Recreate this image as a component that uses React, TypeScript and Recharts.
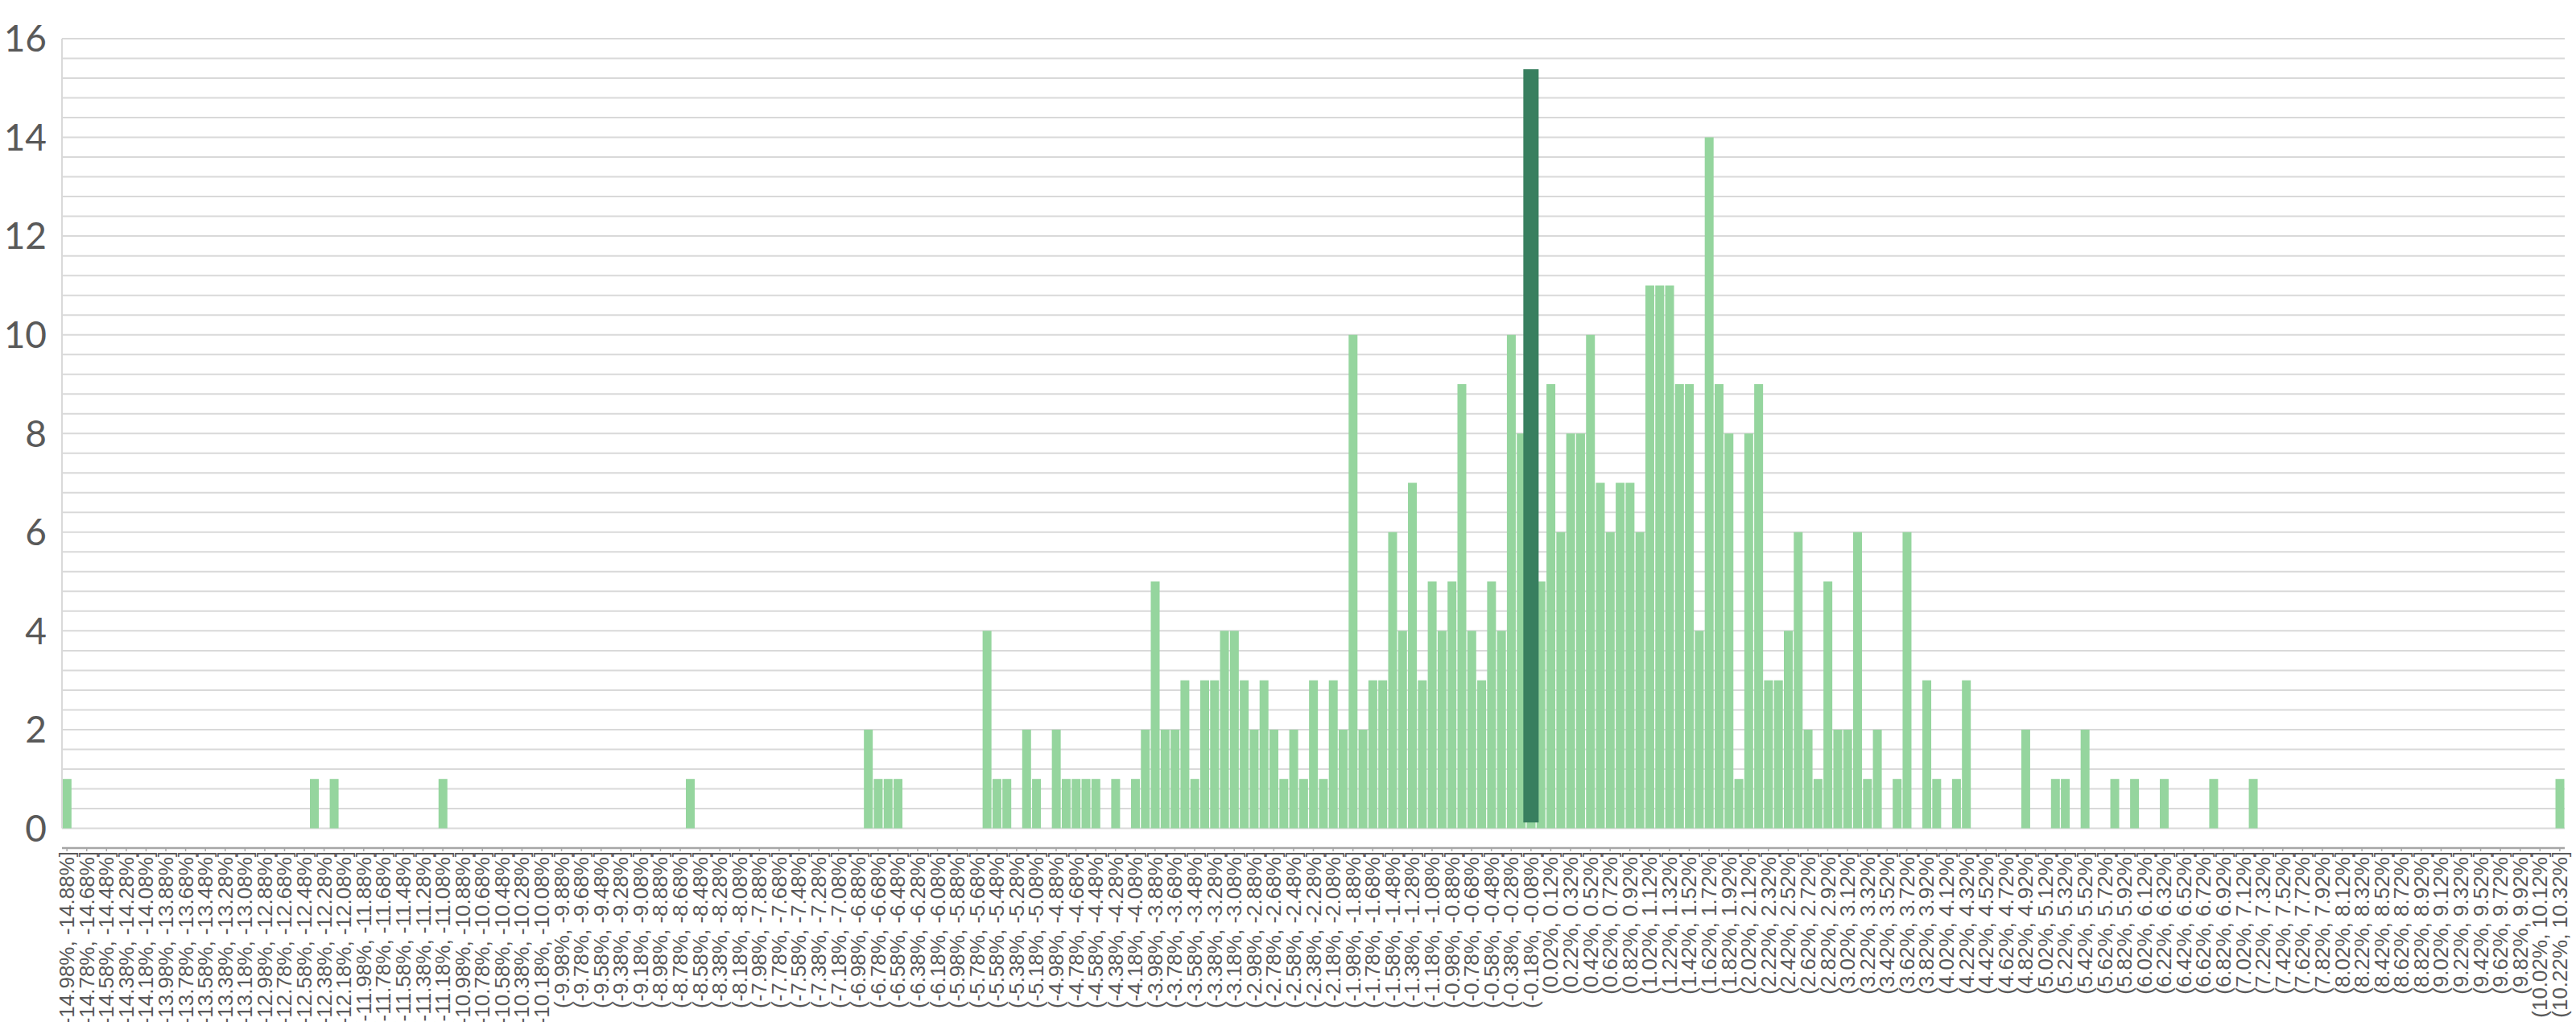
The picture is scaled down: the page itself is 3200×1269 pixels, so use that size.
import React from 'react';
import { BarChart, Bar, XAxis, YAxis, CartesianGrid, ReferenceLine } from 'recharts';

// Histogram bins: 0.1%-wide intervals starting at -14.98%
const BIN_START = -14.98;
const BIN_WIDTH = 0.1;

// Count of observations in each bin (253 bins, index 0 = (-14.98%, -14.88%])
const counts: number[] = [
  1, 0, 0, 0, 0, 0, 0, 0, 0, 0,
  0, 0, 0, 0, 0, 0, 0, 0, 0, 0,
  0, 0, 0, 0, 0, 1, 0, 1, 0, 0,
  0, 0, 0, 0, 0, 0, 0, 0, 1, 0,
  0, 0, 0, 0, 0, 0, 0, 0, 0, 0,
  0, 0, 0, 0, 0, 0, 0, 0, 0, 0,
  0, 0, 0, 1, 0, 0, 0, 0, 0, 0,
  0, 0, 0, 0, 0, 0, 0, 0, 0, 0,
  0, 2, 1, 1, 1, 0, 0, 0, 0, 0,
  0, 0, 0, 4, 1, 1, 0, 2, 1, 0,
  2, 1, 1, 1, 1, 0, 1, 0, 1, 2,
  5, 2, 2, 3, 1, 3, 3, 4, 4, 3,
  2, 3, 2, 1, 2, 1, 3, 1, 3, 2,
  10, 2, 3, 3, 6, 4, 7, 3, 5, 4,
  5, 9, 4, 3, 5, 4, 10, 8, 8, 5,
  9, 6, 8, 8, 10, 7, 6, 7, 7, 6,
  11, 11, 11, 9, 9, 4, 14, 9, 8, 1,
  8, 9, 3, 3, 4, 6, 2, 1, 5, 2,
  2, 6, 1, 2, 0, 1, 6, 0, 3, 1,
  0, 1, 3, 0, 0, 0, 0, 0, 2, 0,
  0, 1, 1, 0, 2, 0, 0, 1, 0, 1,
  0, 0, 1, 0, 0, 0, 0, 1, 0, 0,
  0, 1, 0, 0, 0, 0, 0, 0, 0, 0,
  0, 0, 0, 0, 0, 0, 0, 0, 0, 0,
  0, 0, 0, 0, 0, 0, 0, 0, 0, 0,
  0, 0, 1,
];

// Category labels "(lo%, hi%]"
const binLabels: string[] = counts.map((_, i) => {
  const lo = BIN_START + i * BIN_WIDTH;
  const hi = lo + BIN_WIDTH;
  return `(${lo.toFixed(2)}%, ${hi.toFixed(2)}%]`;
});

// Highlight marker (dark column) on one bin
const markerBin = 148;
const markerLow = 0.12;
const markerHigh = 15.38;

// Y axis: gridlines every 0.4, labels on even integers
const yGridTicks: number[] = [
  -0.4, 0, 0.4, 0.8, 1.2, 1.6, 2, 2.4, 2.8, 3.2, 3.6, 4, 4.4, 4.8, 5.2, 5.6, 6,
  6.4, 6.8, 7.2, 7.6, 8, 8.4, 8.8, 9.2, 9.6, 10, 10.4, 10.8, 11.2, 11.6, 12,
  12.4, 12.8, 13.2, 13.6, 14, 14.4, 14.8, 15.2, 15.6, 16,
];
const yLabelValues: number[] = [0, 2, 4, 6, 8, 10, 12, 14, 16];

const rows = binLabels.map((bin, i) => ({ bin, count: counts[i] }));

const formatY = (v: number) => {
  const hit = yLabelValues.find((t) => Math.abs(t - v) < 1e-6);
  return hit === undefined ? '' : String(hit);
};

function XTick(props: any) {
  const { x, y, payload } = props;
  return (
    <text
      x={0}
      y={0}
      transform={`translate(${x},${y}) rotate(-90)`}
      textAnchor="end"
      dominantBaseline="central"
      fontSize={26}
      fontFamily="'Liberation Sans', Arial, sans-serif"
      fill="#595959"
    >
      {payload.value}
    </text>
  );
}

export default function App() {
  return (
    <div
      style={{
        position: 'absolute',
        left: 0,
        top: 0,
        width: 3200,
        height: 1269,
        overflow: 'hidden',
        background: '#ffffff',
      }}
    >
      <BarChart
        width={3200}
        height={1269}
        data={rows}
        margin={{ top: 48, right: 14, bottom: 0, left: 0 }}
        barCategoryGap="6.5%"
      >
        <CartesianGrid vertical={false} stroke="#D9D9D9" strokeWidth={2} />
        <XAxis
          dataKey="bin"
          interval={1}
          height={216}
          tick={<XTick />}
          tickSize={4}
          tickMargin={0}
          tickLine={{ stroke: '#A6A6A6', strokeWidth: 1.5 }}
          axisLine={{ stroke: '#A6A6A6', strokeWidth: 2.5 }}
        />
        <YAxis
          type="number"
          domain={[-0.4, 16]}
          ticks={yGridTicks}
          interval={0}
          tickFormatter={formatY}
          width={77}
          tickLine={false}
          tickSize={10}
          tickMargin={9}
          axisLine={false}
          tick={{ fill: '#595959', fontSize: 46, fontFamily: 'Lato, sans-serif' }}
        />
        <ReferenceLine
          segment={[
            { x: binLabels[0], y: 0 },
            { x: binLabels[0], y: 16 },
          ]}
          position="start"
          stroke="#D9D9D9"
          strokeWidth={2}
        />
        <Bar dataKey="count" fill="#95D59E" isAnimationActive={false} />
        <ReferenceLine
          segment={[
            { x: binLabels[markerBin], y: markerLow },
            { x: binLabels[markerBin], y: markerHigh },
          ]}
          stroke="#387F5F"
          strokeWidth={19}
        />
      </BarChart>
    </div>
  );
}
